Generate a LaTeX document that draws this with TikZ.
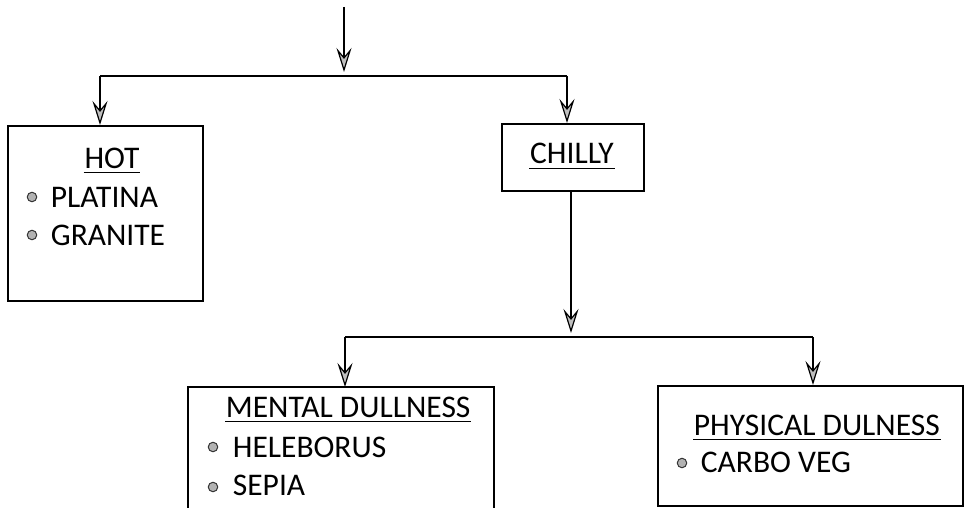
\documentclass[tikz,border=0pt]{standalone}
\usepackage{fontspec}
\setmainfont{Carlito}
\usetikzlibrary{arrows.meta}
\begin{document}
\begin{tikzpicture}[x=1pt,y=-1pt,
  line width=1.8pt,
  box/.style={draw, line width=1.8pt, anchor=north west, inner sep=0},
  openbox/.style={anchor=north west, inner sep=0},
  arr/.style={-{Stealth[length=24pt,width=15pt,inset=9pt,line width=1.2pt,fill=gray!50]}},
  lbl/.style={anchor=base west, inner sep=0, font=\fontsize{31.5}{36}\selectfont},
  ttl/.style={anchor=base, inner sep=0, font=\fontsize{31.5}{36}\selectfont},
  uline/.style={line width=1.4pt},
  dot/.style={circle, draw=black!80, line width=1pt, fill=gray!60, inner sep=0, minimum size=9.5pt}]
\useasboundingbox (0,0) rectangle (964,508);

% boxes
\node[box, minimum width=195, minimum height=175] (hot) at (7,125) {};
\node[box, minimum width=142, minimum height=67] (chilly) at (501,123) {};
\node[openbox, minimum width=304, minimum height=121] (mental) at (188,387) {};
\node[box, minimum width=305, minimum height=120] (physical) at (657,385) {};
\draw (mental.south west) -- (mental.north west) -- (mental.north east) -- (mental.south east);

% connectors
\coordinate (top) at (344,7);
\coordinate (j0) at (344,76);
\coordinate (hl) at (100,76);
\coordinate (cr) at (567,76);
\coordinate (j1) at (571,337);
\coordinate (ml) at (345,337);
\coordinate (pr) at (813,337);

\draw[arr] (top) -- ([yshift=4pt]j0);
\draw (hl) -- (cr);
\draw[arr] (hl) -- (hl |- hot.north);
\draw[arr] (cr) -- (cr |- chilly.north);
\draw[arr] (j1 |- chilly.south) -- ([yshift=4pt]j1);
\draw (ml) -- (pr);
\draw[arr] (ml) -- (ml |- mental.north);
\draw[arr] (pr) -- (pr |- physical.north);

% texts
\node[ttl] (hott) at (112,168) {HOT};
\node[dot] (b1) at (32,197) {};
\node[lbl] (t1) at (50,207) {PLATINA};
\node[dot] (b2) at (32,235) {};
\node[lbl] (t2) at (50,245) {GRANITE};

\node[ttl] (chillyt) at (572,164) {CHILLY};

\node[lbl] (mentalt) at (225,417) {MENTAL DULLNESS};
\node[dot] (b3) at (213,447) {};
\node[lbl] (t3) at (232,457) {HELEBORUS};
\node[dot] (b4) at (213,487) {};
\node[lbl] (t4) at (232,495) {SEPIA};

\node[lbl] (physt) at (693,435) {PHYSICAL DULNESS};
\node[dot] (b5) at (682,463) {};
\node[lbl] (t5) at (700,472) {CARBO VEG};

% underlines
\foreach \n in {hott,chillyt,mentalt,physt}
  \draw[uline] ([yshift=-4.5pt]\n.base west) -- ([yshift=-4.5pt]\n.base east);
\end{tikzpicture}
\end{document}
